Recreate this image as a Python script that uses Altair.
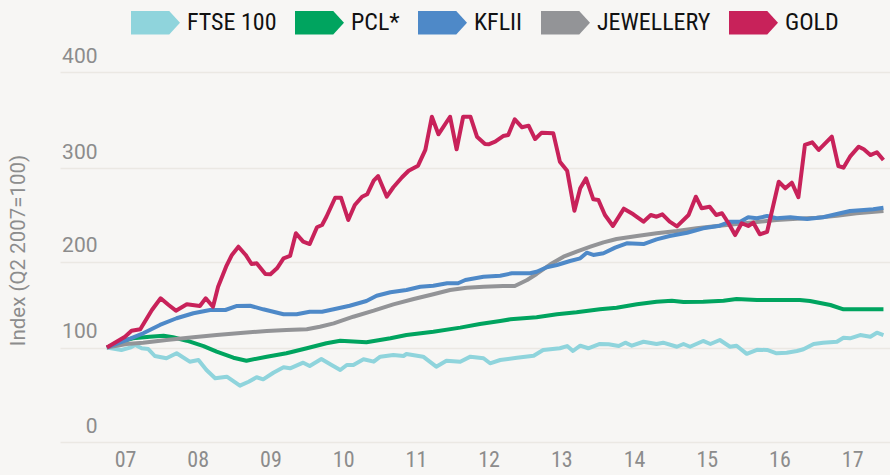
import altair as alt
import pandas as pd

series = ["FTSE 100", "PCL*", "KFLII", "JEWELLERY", "GOLD"]
colors = ["#8fd4dc", "#00a45f", "#4e89c8", "#939497", "#c8225a"]
draw_order = ["FTSE 100", "PCL*", "JEWELLERY", "KFLII", "GOLD"]

tick_years = [2007.5, 2008.5, 2009.5, 2010.5, 2011.5, 2012.5, 2013.5, 2014.5, 2015.5, 2016.5, 2017.5]
y_ticks = [0, 100, 200, 300, 400]

gold_t = [2007.25, 2007.50, 2007.59, 2007.71, 2007.87, 2007.99, 2008.10, 2008.20, 2008.35, 2008.53,
          2008.61, 2008.71, 2008.78, 2008.89, 2008.97, 2009.06, 2009.16, 2009.24, 2009.31, 2009.43,
          2009.50, 2009.59, 2009.68, 2009.77, 2009.85, 2009.95, 2010.04, 2010.14, 2010.21, 2010.27,
          2010.39, 2010.47, 2010.57, 2010.66, 2010.76, 2010.83, 2010.92, 2010.98, 2011.10, 2011.19,
          2011.31, 2011.40, 2011.53, 2011.63, 2011.72, 2011.81, 2011.97, 2012.06, 2012.15, 2012.25,
          2012.34, 2012.45, 2012.50, 2012.59, 2012.70, 2012.77, 2012.86, 2012.96, 2013.05, 2013.14,
          2013.23, 2013.39, 2013.48, 2013.58, 2013.68, 2013.76, 2013.84, 2013.94, 2014.01, 2014.10,
          2014.21, 2014.36, 2014.49, 2014.63, 2014.73, 2014.81, 2014.89, 2014.99, 2015.09, 2015.25,
          2015.35, 2015.43, 2015.54, 2015.63, 2015.71, 2015.80, 2015.89, 2015.98, 2016.07, 2016.14,
          2016.23, 2016.33, 2016.40, 2016.49, 2016.58, 2016.67, 2016.76, 2016.85, 2016.95, 2017.04,
          2017.22, 2017.31, 2017.38, 2017.47, 2017.59, 2017.66, 2017.75, 2017.84, 2017.93]
gold_v = [100, 112.6, 119.5, 121.2, 143.6, 157.2, 149.4, 142.8, 150.2, 148.3,
          157.2, 147.4, 170.7, 194.0, 207.0, 215.8, 207.0, 197.1, 197.9, 185.5,
          185.1, 192.1, 203.4, 205.9, 230.2, 221.2, 218.7, 236.6, 239.0, 247.9,
          268.2, 268.2, 244.4, 260.4, 269.3, 271.9, 286.4, 291.4, 269.3, 279.4,
          290.1, 297.1, 302.4, 318.8, 353.4, 335.1, 353.4, 319.5, 353.4, 353.4,
          332.6, 325.0, 324.7, 327.4, 333.3, 334.4, 350.7, 342.4, 344.1, 330.2,
          336.8, 336.1, 306.6, 297.1, 254.3, 278.3, 288.9, 266.5, 265.8, 249.7,
          238.0, 256.5, 250.5, 242.6, 249.7, 247.9, 250.5, 242.6, 237.6, 249.7,
          269.3, 256.9, 258.6, 249.7, 251.6, 240.9, 228.3, 240.9, 238.0, 241.5,
          229.1, 231.8, 255.1, 285.3, 278.3, 284.3, 268.7, 324.0, 326.8, 318.8,
          332.6, 302.1, 300.3, 311.8, 322.2, 319.5, 313.5, 316.4, 308.3]

kflii_t = [2007.25, 2007.52, 2007.75, 2007.98, 2008.21, 2008.44, 2008.67, 2008.88, 2009.04, 2009.22,
           2009.40, 2009.68, 2009.86, 2010.04, 2010.21, 2010.37, 2010.59, 2010.82, 2010.96, 2011.15,
           2011.37, 2011.56, 2011.74, 2011.93, 2012.08, 2012.18, 2012.43, 2012.66, 2012.82, 2013.07,
           2013.16, 2013.30, 2013.44, 2013.62, 2013.76, 2013.85, 2013.94, 2014.08, 2014.24, 2014.40,
           2014.63, 2014.81, 2014.99, 2015.23, 2015.45, 2015.68, 2015.82, 2015.96, 2016.07, 2016.19,
           2016.33, 2016.46, 2016.65, 2016.88, 2017.10, 2017.29, 2017.47, 2017.66, 2017.79, 2017.93]
kflii_v = [100, 108.7, 116.5, 126.2, 134.0, 139.8, 143.6, 143.6, 148.3, 148.6,
           144.4, 138.6, 138.6, 141.6, 141.6, 144.4, 148.6, 154.1, 160.2, 164.2,
           166.9, 170.7, 171.9, 174.7, 174.7, 178.5, 182.3, 183.5, 186.3, 186.3,
           188.1, 193.3, 195.9, 200.5, 203.4, 209.4, 207.0, 208.8, 214.8, 219.5,
           218.7, 223.7, 227.3, 230.8, 235.5, 238.3, 242.6, 242.6, 247.3, 246.2,
           248.7, 246.2, 247.3, 245.5, 247.3, 250.8, 254.0, 255.1, 255.8, 257.5]

jew_t = [2007.25, 2007.52, 2007.75, 2008.07, 2008.44, 2008.76, 2009.13, 2009.45, 2009.72, 2010.00,
         2010.18, 2010.37, 2010.64, 2010.92, 2011.19, 2011.47, 2011.74, 2011.97, 2012.20, 2012.43,
         2012.70, 2012.86, 2013.03, 2013.16, 2013.35, 2013.53, 2013.71, 2013.90, 2014.08, 2014.26,
         2014.54, 2014.81, 2015.09, 2015.36, 2015.64, 2015.91, 2016.19, 2016.46, 2016.74, 2017.01,
         2017.29, 2017.56, 2017.93]
jew_v = [100, 104.1, 105.6, 108.7, 111.9, 114.5, 117.2, 119.2, 120.3, 121.2,
         124.2, 128.1, 135.8, 142.8, 150.2, 156.4, 161.9, 166.9, 169.5, 170.7,
         171.5, 171.5, 178.5, 185.5, 196.7, 205.1, 210.5, 215.8, 220.5, 224.1,
         227.3, 230.2, 232.6, 235.5, 238.0, 240.1, 242.2, 244.4, 245.8, 246.8,
         249.0, 251.5, 254.0]

pcl_t = [2007.25, 2007.43, 2007.61, 2007.84, 2008.03, 2008.16, 2008.35, 2008.58, 2008.76, 2008.99,
         2009.17, 2009.45, 2009.72, 2010.00, 2010.27, 2010.46, 2010.82, 2011.15, 2011.37, 2011.74,
         2012.11, 2012.38, 2012.66, 2012.80, 2013.16, 2013.44, 2013.71, 2014.03, 2014.26, 2014.54,
         2014.81, 2015.02, 2015.18, 2015.45, 2015.73, 2015.91, 2016.19, 2016.46, 2016.78, 2016.92,
         2017.20, 2017.38, 2017.93]
pcl_v = [100, 106.7, 110.7, 112.6, 113.7, 111.9, 107.9, 101.7, 95.6, 89.2,
         86.0, 90.3, 93.9, 99.2, 104.9, 107.9, 106.0, 110.7, 114.5, 118.4,
         123.1, 127.3, 130.8, 132.8, 135.1, 138.6, 140.9, 144.4, 146.3, 150.2,
         153.3, 154.4, 152.9, 153.3, 154.4, 156.4, 155.2, 155.2, 155.2, 154.1,
         149.4, 144.4, 144.4]

ftse_t = [2007.25, 2007.45, 2007.57, 2007.64, 2007.73, 2007.82, 2007.91, 2008.07, 2008.21, 2008.39,
          2008.51, 2008.62, 2008.74, 2008.90, 2009.08, 2009.20, 2009.31, 2009.40, 2009.54, 2009.68,
          2009.77, 2009.95, 2010.04, 2010.20, 2010.34, 2010.46, 2010.55, 2010.64, 2010.78, 2010.92,
          2011.01, 2011.19, 2011.33, 2011.37, 2011.60, 2011.78, 2011.92, 2012.11, 2012.25, 2012.43,
          2012.52, 2012.66, 2012.89, 2013.12, 2013.25, 2013.48, 2013.58, 2013.66, 2013.76, 2013.87,
          2014.03, 2014.15, 2014.29, 2014.38, 2014.47, 2014.63, 2014.81, 2014.90, 2015.09, 2015.18,
          2015.27, 2015.45, 2015.55, 2015.68, 2015.82, 2015.91, 2016.05, 2016.19, 2016.33, 2016.46,
          2016.60, 2016.74, 2016.83, 2016.97, 2017.10, 2017.29, 2017.38, 2017.47, 2017.61, 2017.75,
          2017.84, 2017.93]
ftse_v = [100, 97.4, 99.8, 102.9, 99.2, 98.4, 91.0, 88.6, 93.9, 85.0,
          86.8, 76.2, 67.4, 69.1, 59.6, 63.8, 68.5, 66.3, 73.3, 79.0,
          78.0, 83.9, 80.4, 87.8, 81.5, 76.2, 81.5, 81.5, 87.5, 85.0,
          90.3, 92.1, 91.0, 93.1, 90.3, 79.7, 86.0, 85.0, 90.3, 88.6,
          83.3, 86.8, 89.2, 91.3, 97.4, 99.2, 101.7, 96.3, 102.1, 99.2,
          104.1, 103.7, 101.7, 105.6, 102.1, 106.7, 104.1, 105.6, 100.9, 104.1,
          100.9, 107.6, 104.1, 108.7, 100.9, 102.1, 93.3, 97.6, 97.4, 93.9,
          94.5, 96.3, 98.1, 104.1, 105.6, 106.7, 111.4, 110.7, 114.5, 112.6,
          117.2, 114.5]

frames = []
for name, ts, vs in [("FTSE 100", ftse_t, ftse_v), ("PCL*", pcl_t, pcl_v),
                     ("KFLII", kflii_t, kflii_v), ("JEWELLERY", jew_t, jew_v),
                     ("GOLD", gold_t, gold_v)]:
    frames.append(pd.DataFrame({"series": name, "t": ts, "v": vs}))
df = pd.concat(frames, ignore_index=True)

cond_font = "Liberation Sans Narrow, Roboto Condensed, Arial Narrow, sans-serif"
gray = "#8c8c8c"

x_enc = alt.X(
    "t:Q",
    scale=alt.Scale(domain=[2006.606, 2018.02], nice=False, zero=False),
    axis=alt.Axis(values=tick_years, labelExpr="slice(toString(floor(datum.value)), 2)",
                  title=None, grid=False, ticks=False, domain=False, labelFlush=False,
                  labelFontSize=22, labelFont=cond_font, labelColor=gray,
                  labelPadding=7, labelBaseline="top"),
)
y_enc = alt.Y(
    "v:Q",
    scale=alt.Scale(domain=y_ticks, range=[370, 275.5, 189.5, 96, 0]),
    axis=alt.Axis(values=y_ticks, title="Index (Q2 2007=100)", grid=True,
                  gridColor="#ebe8e3", gridWidth=1.5, ticks=False, domain=False,
                  labelAlign="right", labelPadding=-37, labelBaseline="alphabetic",
                  labelOffset=-10, labelFontSize=21, labelFont="Roboto", labelColor=gray,
                  titleFont="Roboto", titleFontSize=20.5, titleFontWeight="normal",
                  titleColor=gray, titleAngle=270, titleX=-42, titleY=178,
                  titleAlign="center", titleBaseline="middle"),
)
color_scale = alt.Scale(domain=series, range=colors)

arrow = "M-1,-0.48L0.56,-0.48L1,0L0.56,0.48L-1,0.48Z"
legend_layer = (
    alt.Chart(df).transform_filter("false")
    .mark_point(filled=True)
    .encode(
        x=x_enc, y=y_enc,
        color=alt.Color("series:N", scale=color_scale,
                        legend=alt.Legend(title=None, orient="none", direction="horizontal",
                                          columns=5, legendX=71, legendY=-74,
                                          symbolType=arrow, symbolSize=2401,
                                          symbolStrokeWidth=0, symbolOpacity=1,
                                          labelFont=cond_font, labelFontSize=24,
                                          labelFontWeight="normal",
                                          labelColor="#111111", labelOffset=7,
                                          columnPadding=18, padding=0)),
    )
)

layers = [legend_layer]
for name in draw_order:
    layers.append(
        alt.Chart(df).transform_filter(alt.datum.series == name)
        .mark_line(strokeWidth=4, strokeJoin="round")
        .encode(x=x_enc, y=y_enc,
                color=alt.Color("series:N", scale=color_scale, legend=None))
    )

chart = (
    alt.layer(*layers)
    .properties(width=830, height=370,
                autosize=alt.AutoSizeParams(type="none"),
                padding={"left": 60, "top": 72, "right": 0, "bottom": 33},
                background="#f7f6f4")
    .configure_view(stroke=None)
)

chart.save("out.html", embed_options={"renderer": "svg", "actions": False})
